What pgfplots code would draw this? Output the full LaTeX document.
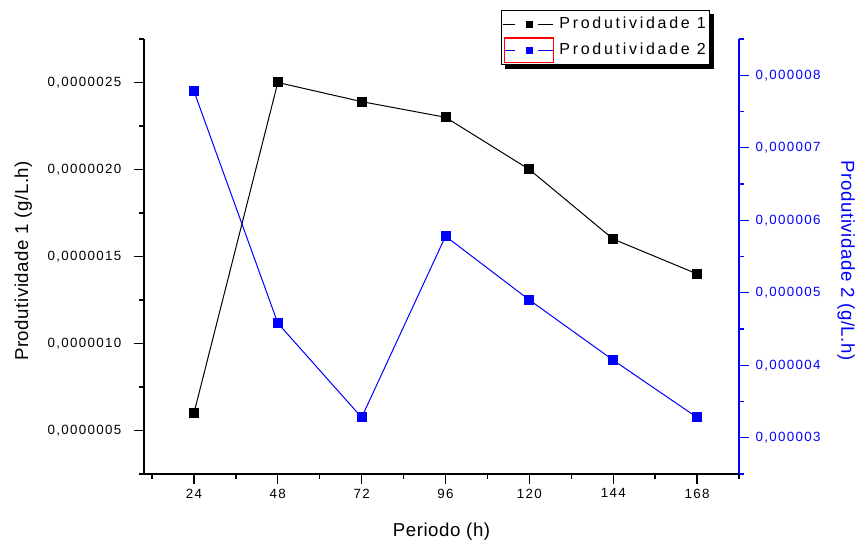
\documentclass[border=0pt]{standalone}
\usepackage{pgfplots}
\pgfplotsset{compat=1.18}
\usepackage{fontspec}
\setmainfont{Liberation Sans}[LetterSpace=10]
\newfontfamily\legfont{Liberation Sans}[LetterSpace=17]
\newfontfamily\labfont{Liberation Sans}[LetterSpace=3]
\usetikzlibrary{backgrounds}

\pgfplotsset{
  legA/.style={legend image code/.code={
    \draw[##1, mark=none] (0pt,0pt) -- (9pt,0pt);
    \draw[##1, mark=none] (26pt,0pt) -- (37pt,0pt);
    \draw[##1, mark size=2.2pt] plot coordinates {(19.5pt,0pt)};
  }},
  legB/.style={legend image code/.code={
    \draw[##1, mark=none] (1pt,0pt) -- (9pt,0pt);
    \draw[##1, mark=none] (26pt,0pt) -- (37pt,0pt);
    \draw[##1, mark size=2.2pt] plot coordinates {(19.5pt,0pt)};
    \draw[red, line width=1pt, solid] (1pt,-9pt) rectangle (37.5pt,9.5pt);
  }},
}

\pgfplotstableread{
x y
24 0.60e-6
48 2.50e-6
72 2.39e-6
96 2.30e-6
120 2.00e-6
144 1.60e-6
168 1.40e-6
}\seriesA

\pgfplotstableread{
x y
24 7.78e-6
48 4.58e-6
72 3.28e-6
96 5.78e-6
120 4.90e-6
144 4.07e-6
168 3.28e-6
}\seriesB

\begin{document}
\begin{tikzpicture}
\useasboundingbox (-108pt,-51pt) rectangle (534pt,355.5pt);
\begin{axis}[
  scale only axis, width=446.25pt, height=326.25pt,
  at={(0pt,0pt)}, anchor=south west,
  xmin=9.7, xmax=180, ymin=0.25e-6, ymax=2.75e-6,
  axis x line*=bottom, axis y line*=left,
  axis line style={line width=1.1pt},
  xtick={24,48,72,96,120,144,168},
  xticklabels={24,48,72,96,120,144,168},
  minor xtick={12,36,60,84,108,132,156,180},
  ytick={0.5e-6,1e-6,1.5e-6,2e-6,2.5e-6},
  yticklabels={{0,0000005},{0,0000010},{0,0000015},{0,0000020},{0,0000025}},
  minor ytick={0.25e-6,0.75e-6,1.25e-6,1.75e-6,2.25e-6,2.75e-6},
  scaled y ticks=false,
  tick align=outside,
  major tick length=7.5pt, minor tick length=3.75pt,
  every tick/.style={line width=1pt, black},
  ticklabel style={font=\fontsize{10}{12}\selectfont},
  yticklabel style={xshift=-6pt},
  xlabel={Periodo (h)}, ylabel={Produtividade 1 (g/L.h)},
  label style={font=\labfont\fontsize{14}{16}\selectfont},
  xlabel style={at={(axis description cs:0.5,-0.133)}, anchor=center},
  ylabel style={at={(axis description cs:-0.203,0.49)}, anchor=center},
  clip=false,
]
\addplot[black, line width=0.75pt, mark=square*, mark size=3.375pt] table[x=x,y=y] {\seriesA};
\end{axis}
\begin{axis}[
  scale only axis, width=446.25pt, height=326.25pt,
  at={(0pt,0pt)}, anchor=south west,
  xmin=9.7, xmax=180, ymin=2.5e-6, ymax=8.5e-6,
  hide x axis,
  axis y line*=right,
  y axis line style={blue, line width=1.1pt},
  ytick={3e-6,4e-6,5e-6,6e-6,7e-6,8e-6},
  yticklabels={{0,000003},{0,000004},{0,000005},{0,000006},{0,000007},{0,000008}},
  minor ytick={2.5e-6,3.5e-6,4.5e-6,5.5e-6,6.5e-6,7.5e-6,8.5e-6},
  scaled y ticks=false,
  tick align=outside,
  major tick length=7.5pt, minor tick length=3.75pt,
  every tick/.style={line width=1pt, blue},
  yticklabel style={font=\fontsize{10}{12}\selectfont, text=blue, xshift=1.5pt},
  ylabel={Produtividade 2 (g/L.h)},
  ylabel style={font=\labfont\fontsize{14}{16}\selectfont, text=blue, at={(axis description cs:1.18,0.49)}, anchor=center, rotate=180},
  clip=false,
  legend style={at={(axis description cs:0.6,1.0667)}, anchor=north west,
    name=legbox,
    draw=black, line width=0.8pt, fill=white,
    font=\legfont\fontsize{12}{14}\selectfont,
    inner xsep=1pt, inner ysep=1pt, row sep=0pt, column sep=2.5pt,
    nodes={inner xsep=1.5pt, inner ysep=3.5pt, text height=9pt, text depth=3pt},
    cells={anchor=west}},
  legA,
]
\addlegendimage{black, line width=0.75pt, mark=square*}
\addlegendentry{Produtividade 1}
\addplot[blue, line width=0.75pt, mark=square*, mark size=3.375pt, legB] table[x=x,y=y] {\seriesB};
\addlegendentry{Produtividade 2}
\end{axis}
\begin{scope}[on background layer]
\fill[black] ([shift={(3pt,-3pt)}]legbox.south west) rectangle ([shift={(3pt,-3pt)}]legbox.north east);
\end{scope}
\end{tikzpicture}
\end{document}
